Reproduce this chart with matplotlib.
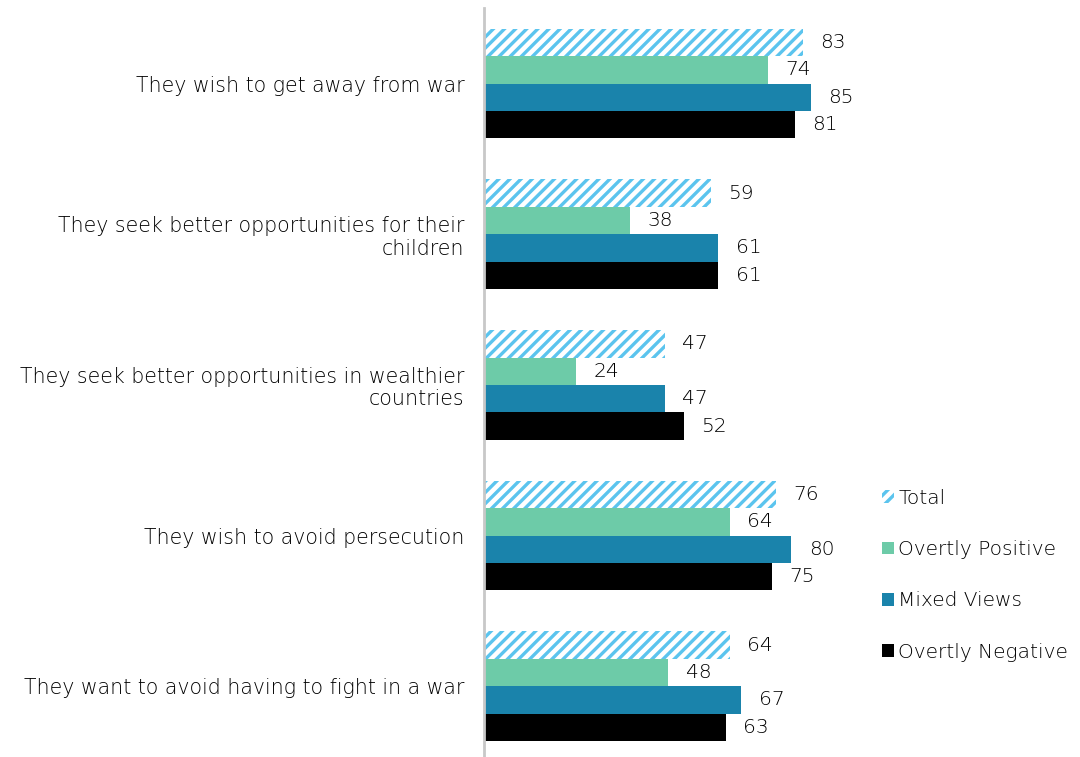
import numpy as np
import matplotlib.pyplot as plt
from matplotlib.patches import Patch

categories = ["They wish to get away from war",
              "They seek better opportunities for their\nchildren",
              "They seek better opportunities in wealthier\ncountries",
              "They wish to avoid persecution",
              "They want to avoid having to fight in a war"]
series = ["Total", "Overtly Positive", "Mixed Views", "Overtly Negative"]
total = [83, 59, 47, 76, 64]
positive = [74, 38, 24, 64, 48]
mixed = [85, 61, 47, 80, 67]
negative = [81, 61, 52, 75, 63]

plt.rcParams['font.family'] = ['DejaVu Sans']
plt.rcParams['font.weight'] = 'light'
plt.rcParams['hatch.linewidth'] = 2.4
plt.rcParams['hatch.color'] = '#5BC4EE'

light_blue = '#5BC4EE'
green = '#6DCBA8'
teal = '#1A83AB'
black = '#000000'
txt = '#000000'

fig = plt.figure(figsize=(10.8, 7.57), dpi=100)
ax = fig.add_axes([0.448, 0.0, 0.356, 0.989])

y = np.arange(len(categories))
h = 0.182
offsets = [-1.5 * h, -0.5 * h, 0.5 * h, 1.5 * h]
values = [total, positive, mixed, negative]
colors = [light_blue, green, teal, black]

for k, (vals, col) in enumerate(zip(values, colors)):
    pos = y + offsets[k]
    if k == 0:
        ax.barh(pos, vals, height=h, color='white', edgecolor=col,
                hatch='///', linewidth=0)
    else:
        ax.barh(pos, vals, height=h, color=col, linewidth=0)
    for p, v in zip(pos, vals):
        ax.text(v + 4.5, p, str(v), va='center', ha='left', fontsize=14.5, color=txt)

ax.set_xlim(0, 100)
ax.set_ylim(4.47, -0.5)
ax.set_yticks(y)
ax.set_yticklabels(categories, fontsize=14.8, color=txt, multialignment='right',
                   linespacing=1.15)
ax.tick_params(axis='y', length=0, pad=14)
ax.set_xticks([])
for s in ['top', 'right', 'bottom']:
    ax.spines[s].set_visible(False)
ax.spines['left'].set_color('#C8C8C8')
ax.spines['left'].set_linewidth(2)

handles = [Patch(facecolor='white', edgecolor=light_blue, hatch='///', linewidth=0),
           Patch(facecolor=green), Patch(facecolor=teal), Patch(facecolor=black)]
leg = fig.legend(handles, series, loc='upper left', bbox_to_anchor=(0.800, 0.378),
                 frameon=False, fontsize=14.5, handlelength=0.6, handleheight=0.6,
                 handletextpad=0.2, labelspacing=1.6)
for t in leg.get_texts():
    t.set_color(txt)

fig.savefig('out.png', dpi=100)
